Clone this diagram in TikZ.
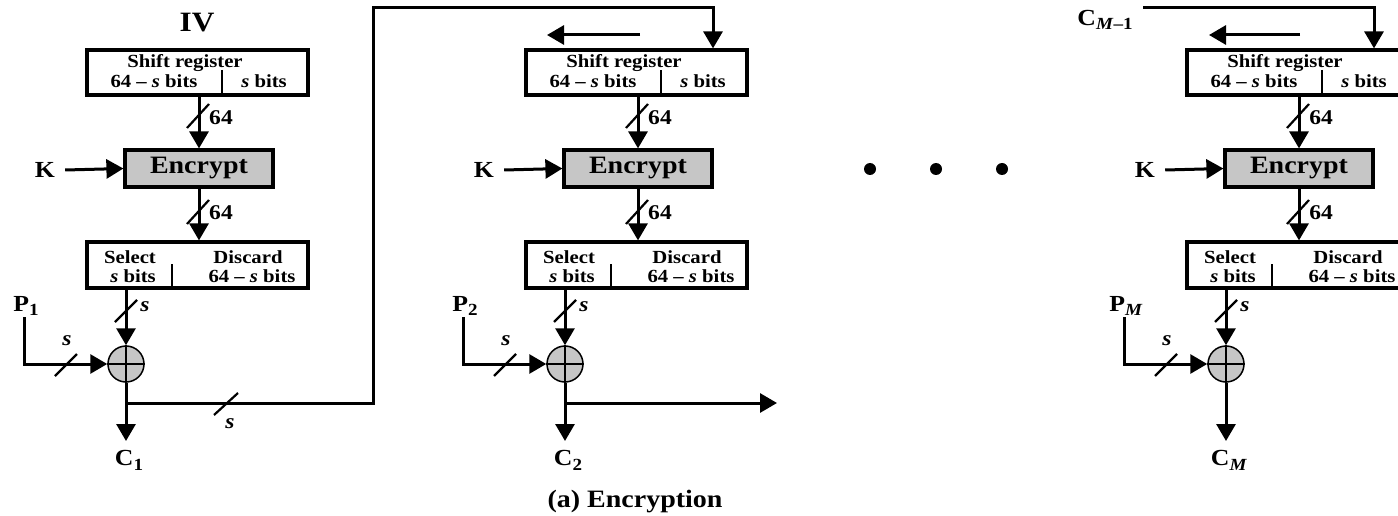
\documentclass[tikz,border=0pt]{standalone}
\usepackage{fontspec}
\setmainfont{Liberation Serif}[FakeStretch=1.12]
\usetikzlibrary{arrows.meta,calc}
\definecolor{boxgray}{RGB}{198,198,198}
\newcommand\mysub[1]{\raisebox{-0.45ex}{\fontsize{17}{17}\selectfont #1}}
\begin{document}
\begin{tikzpicture}[x=1pt,y=-1pt,
  line/.style={line width=3pt},
  arr/.style={line width=3pt,-{Triangle[width=19pt,length=17pt]}},
  thinl/.style={line width=1.4pt},
  slash/.style={line width=2.2pt},
  srbox/.style={draw,line width=3.2pt,minimum width=221pt,minimum height=45pt,inner sep=0pt},
  encbox/.style={draw,line width=3.2pt,fill=boxgray,minimum width=148pt,minimum height=37pt,inner sep=0pt,
    font=\fontsize{25}{25}\selectfont\bfseries},
  xorc/.style={circle,draw,line width=1.5pt,fill=boxgray,minimum size=36pt,inner sep=0pt},
  small/.style={inner sep=0pt,font=\fontsize{18.5}{18.5}\selectfont\bfseries},
  num/.style={inner sep=0pt,font=\fontsize{21}{21}\selectfont\bfseries},
  snum/.style={inner sep=0pt,font=\fontsize{21}{21}\selectfont\bfseries\itshape},
  lbl/.style={inner sep=1pt,font=\fontsize{23}{23}\selectfont\bfseries},
  lblc/.style={inner xsep=1pt,inner ysep=9pt,anchor=north,font=\fontsize{23}{23}\selectfont\bfseries},
  dotc/.style={circle,fill,minimum size=12pt,inner sep=0pt}]
\useasboundingbox (0,0) rectangle (1398,516);
\clip (0,0) rectangle (1398,516);

\foreach \i/\dx/\P in {1/0/1, 2/439/2, 3/1100/{\textit{M}}}{
  % shift register
  \node[srbox] (sr\i) at (197.5+\dx,72.5) {};
  \node[small] at (185+\dx,63) {Shift register};
  \node[small] at (154+\dx,81) {64 -- \textit{s} bits};
  \node[small] at (264+\dx,81) {\textit{s} bits};
  \draw[thinl] (222+\dx,70) -- (222+\dx,95);
  % encrypt
  \node[encbox] (enc\i) at (199+\dx,168.5) {Encrypt};
  \node[lbl] (K\i) at (45+\dx,170) {K};
  \draw[arr] ([xshift=9pt]K\i.east) -- (enc\i.west);
  \draw[arr] (enc\i |- sr\i.south) -- (enc\i.north);
  \draw[slash] (198+\dx,116) ++(-11,12) -- ++(22,-24);
  \node[num] at (221+\dx,118) {64};
  % select/discard
  \node[srbox,minimum height=46pt] (sel\i) at (197.5+\dx,265) {};
  \node[small] at (130+\dx,257) {Select};
  \node[small] at (133+\dx,276) {\textit{s} bits};
  \node[small] at (248+\dx,257) {Discard};
  \node[small] at (252+\dx,276) {64 -- \textit{s} bits};
  \draw[thinl] (172+\dx,264) -- (172+\dx,288);
  \draw[arr] (enc\i.south) -- (enc\i.south |- sel\i.north);
  \draw[slash] (198+\dx,212) ++(-11,12) -- ++(22,-24);
  \node[num] at (221+\dx,213) {64};
  % xor
  \node[xorc] (x\i) at (126+\dx,364) {};
  \draw[thinl] (x\i.north) -- (x\i.south) (x\i.west) -- (x\i.east);
  \draw[arr] (x\i |- sel\i.south) -- (x\i.north);
  \draw[slash] (126+\dx,311) ++(-11,11) -- ++(22,-22);
  \node[snum] at (145+\dx,307) {s};
  % plaintext
  \node[lbl] (P\i) at (26+\dx,306) {P\mysub{\P}};
  \draw[arr] (P\i.south -| 24+\dx,0) |- (x\i.west);
  \draw[slash] (66+\dx,365) ++(-11,11) -- ++(22,-22);
  \node[snum] at (67+\dx,341) {s};
  % ciphertext
  \node[lblc] (C\i) at (129+\dx,441) {C\mysub{\P}};
  \draw[arr] (x\i.south) -- (x\i.south |- C\i.north);
}

% initial vector
\node[lbl,font=\fontsize{28}{28}\selectfont\bfseries] (IV) at (197,23) {IV};

% feedback from C1 into stage 2
\coordinate (t1) at (126,403);
\coordinate (b1) at (373,403);
\coordinate (b2) at (373,8);
\coordinate (in2) at ([xshift=76.5pt]sr2.north);
\draw[arr] (t1) -- (b1) -- (b2) -| (in2);
\draw[slash] (226,404) ++(-12,11) -- ++(24,-22);
\node[snum] at (230,424) {s};

% output of stage 2
\coordinate (t2) at (565,403);
\coordinate (o2) at (777,403);
\draw[arr] (t2) -- (o2);

% shift arrows
\coordinate (sa2) at (640,35);
\coordinate (sb2) at (547,35);
\draw[arr] (sa2) -- (sb2);
\coordinate (sa3) at (1300,35);
\coordinate (sb3) at (1209,35);
\draw[arr] (sa3) -- (sb3);

% C_{M-1} feeding last stage
\node[lbl] (CM1) at (1105,20) {C\mysub{\textit{M}--1}};
\coordinate (cm1) at (1143,8);
\coordinate (in3) at ([xshift=76.5pt]sr3.north);
\draw[arr] (cm1) -| (in3);

% ellipsis dots
\node[dotc] (d1) at (870,169) {};
\node[dotc] (d2) at (936,169) {};
\node[dotc] (d3) at (1002,169) {};

% caption
\node[lbl,font=\fontsize{25}{25}\selectfont\bfseries] (cap) at (635,502) {(a) Encryption};
\end{tikzpicture}
\end{document}
